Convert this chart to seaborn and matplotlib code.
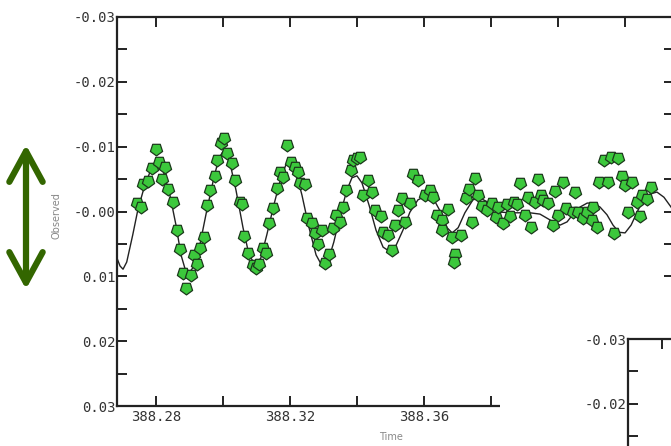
import numpy as np
import pandas as pd
import matplotlib
matplotlib.use("Agg")
import matplotlib.pyplot as plt
from matplotlib.patches import FancyArrowPatch, Rectangle
from matplotlib.ticker import MultipleLocator, FuncFormatter
import seaborn as sns

# ---- observed points (Time, Observed) ----
obs_time = [
    388.2743, 388.2755, 388.2761, 388.2776, 388.2788, 388.2800, 388.2809, 388.2827, 388.2818, 388.2836,
    388.2851, 388.2863, 388.2872, 388.2881, 388.2890, 388.2904, 388.2913, 388.2922, 388.2931, 388.2943,
    388.2952, 388.2961, 388.2976, 388.2982, 388.2994, 388.3003, 388.3012, 388.3027, 388.3036, 388.3051,
    388.3057, 388.3063, 388.3075, 388.3090, 388.3099, 388.3107, 388.3119, 388.3128, 388.3137, 388.3149,
    388.3161, 388.3170, 388.3179, 388.3191, 388.3203, 388.3215, 388.3224, 388.3230, 388.3245, 388.3251,
    388.3266, 388.3275, 388.3284, 388.3296, 388.3304, 388.3316, 388.3328, 388.3337, 388.3349, 388.3358,
    388.3367, 388.3382, 388.3388, 388.3400, 388.3409, 388.3418, 388.3433, 388.3445, 388.3454, 388.3472,
    388.3478, 388.3493, 388.3504, 388.3513, 388.3522, 388.3534, 388.3543, 388.3558, 388.3567, 388.3582,
    388.3603, 388.3618, 388.3627, 388.3639, 388.3654, 388.3654, 388.3672, 388.3684, 388.3710, 388.3693,
    388.3690, 388.3725, 388.3734, 388.3752, 388.3743, 388.3761, 388.3773, 388.3788, 388.3803, 388.3815,
    388.3821, 388.3836, 388.3848, 388.3857, 388.3869, 388.3878, 388.3887, 388.3901, 388.3910, 388.3919,
    388.3931, 388.3940, 388.3949, 388.3955, 388.3970, 388.3985, 388.3991, 388.4000, 388.4015, 388.4024,
    388.4045, 388.4051, 388.4060, 388.4075, 388.4087, 388.4101, 388.4104, 388.4116, 388.4122, 388.4137,
    388.4149, 388.4158, 388.4179, 388.4167, 388.4191, 388.4200, 388.4221, 388.4209, 388.4236, 388.4245,
    388.4251, 388.4266, 388.4278,
]
obs_value = [
    -0.0013, -0.0007, -0.0042, -0.0047, -0.0067, -0.0096, -0.0076, -0.0069, -0.0050, -0.0035,
    -0.0015, 0.0029, 0.0058, 0.0095, 0.0118, 0.0098, 0.0067, 0.0081, 0.0056, 0.0039,
    -0.0010, -0.0033, -0.0055, -0.0079, -0.0106, -0.0113, -0.0090, -0.0075, -0.0049, -0.0015,
    -0.0012, 0.0038, 0.0064, 0.0082, 0.0087, 0.0081, 0.0056, 0.0064, 0.0018, -0.0005,
    -0.0036, -0.0061, -0.0053, -0.0103, -0.0076, -0.0069, -0.0061, -0.0044, -0.0042, 0.0010,
    0.0018, 0.0033, 0.0050, 0.0029, 0.0079, 0.0066, 0.0025, 0.0005, 0.0016, -0.0007,
    -0.0033, -0.0064, -0.0079, -0.0082, -0.0084, -0.0025, -0.0049, -0.0030, -0.0002, 0.0007,
    0.0032, 0.0036, 0.0059, 0.0021, -0.0002, -0.0021, 0.0016, -0.0013, -0.0058, -0.0049,
    -0.0025, -0.0033, -0.0022, 0.0005, 0.0013, 0.0029, -0.0004, 0.0039, 0.0036, 0.0066,
    0.0078, -0.0021, -0.0035, -0.0052, 0.0016, -0.0025, -0.0008, -0.0002, -0.0013, 0.0008,
    -0.0007, 0.0018, -0.0012, 0.0007, -0.0015, -0.0012, -0.0044, 0.0005, -0.0022, 0.0024,
    -0.0015, -0.0050, -0.0025, -0.0018, -0.0013, 0.0021, -0.0032, 0.0005, -0.0045, -0.0005,
    0.0001, -0.0030, 0.0001, 0.0010, 0.0001, 0.0013, -0.0007, 0.0024, -0.0045, -0.0079,
    -0.0045, -0.0084, -0.0082, 0.0033, -0.0055, -0.0041, -0.0045, 0.0001, -0.0015, 0.0007,
    -0.0025, -0.0019, -0.0038,
]

# ---- model curve (Time, Observed) ----
model_time = [
    388.2684, 388.2693, 388.2702, 388.2713, 388.2731, 388.2746, 388.2767, 388.2785, 388.2803, 388.2821,
    388.2842, 388.2860, 388.2875, 388.2893, 388.2910, 388.2931, 388.2952, 388.2973, 388.2988, 388.3003,
    388.3018, 388.3039, 388.3060, 388.3078, 388.3096, 388.3113, 388.3131, 388.3152, 388.3173, 388.3188,
    388.3200, 388.3215, 388.3236, 388.3257, 388.3278, 388.3296, 388.3313, 388.3331, 388.3352, 388.3370,
    388.3385, 388.3400, 388.3415, 388.3436, 388.3457, 388.3478, 388.3499, 388.3516, 388.3537, 388.3558,
    388.3582, 388.3606, 388.3630, 388.3651, 388.3669, 388.3684, 388.3702, 388.3722, 388.3746, 388.3767,
    388.3788, 388.3809, 388.3830, 388.3857, 388.3887, 388.3916, 388.3946, 388.3976, 388.4006, 388.4027,
    388.4045, 388.4066, 388.4087, 388.4104, 388.4125, 388.4146, 388.4164, 388.4182, 388.4200, 388.4218,
    388.4236, 388.4254, 388.4275, 388.4295, 388.4316, 388.4337, 388.4346,
]
model_value = [
    0.0072, 0.0084, 0.0089, 0.0078, 0.0036, -0.0002, -0.0041, -0.0064, -0.0073, -0.0064,
    -0.0025, 0.0021, 0.0067, 0.0099, 0.0087, 0.0052, -0.0002, -0.0052, -0.0082, -0.0095,
    -0.0082, -0.0033, 0.0025, 0.0067, 0.0082, 0.0072, 0.0036, -0.0010, -0.0052, -0.0072,
    -0.0076, -0.0067, -0.0025, 0.0025, 0.0067, 0.0084, 0.0078, 0.0047, 0.0001, -0.0033,
    -0.0052, -0.0055, -0.0044, -0.0010, 0.0029, 0.0055, 0.0062, 0.0053, 0.0029, 0.0001,
    -0.0018, -0.0024, -0.0018, 0.0002, 0.0025, 0.0033, 0.0025, 0.0002, -0.0018, -0.0021,
    -0.0015, -0.0005, 0.0001, 0.0002, 0.0002, 0.0002, 0.0004, 0.0013, 0.0021, 0.0016,
    0.0004, -0.0007, -0.0013, -0.0013, -0.0007, 0.0005, 0.0021, 0.0032, 0.0033, 0.0021,
    0.0001, -0.0018, -0.0027, -0.0030, -0.0022, -0.0007, 0.0000,
]

x_tick_values = [388.28, 388.32, 388.36]
y_tick_values = [-0.03, -0.02, -0.01, 0.0, 0.01, 0.02, 0.03]
y_tick_labels = ["-0.03", "-0.02", "-0.01", "-0.00", "0.01", "0.02", "0.03"]
inset_y_tick_labels = ["-0.03", "-0.02"]

obs_df = pd.DataFrame({"Time": obs_time, "Observed": obs_value})
model_df = pd.DataFrame({"Time": model_time, "Observed": model_value})

sns.set_style("ticks")
plt.rcParams["font.family"] = ["DejaVu Sans"]

W, H = 671, 446
fig = plt.figure(figsize=(W / 100, H / 100), dpi=100)
fig.patch.set_facecolor("white")


def px_rect(left, top, right, bottom):
    return [left / W, 1 - bottom / H, (right - left) / W, (bottom - top) / H]


ax = fig.add_axes(px_rect(117, 17, 674, 406))
ax.set_facecolor("white")

sns.lineplot(data=model_df, x="Time", y="Observed", ax=ax, color="#222222",
             linewidth=1.0, sort=False, zorder=2)
sns.scatterplot(data=obs_df, x="Time", y="Observed", ax=ax, marker=(5, 0, 180),
                s=85, color="#3cc83c", edgecolor="#1c3a1c", linewidth=0.9, zorder=3)

ax.set_xlim(388.2684, 388.4346)
ax.set_ylim(0.03, -0.03)

ax.xaxis.set_major_locator(MultipleLocator(0.02))
ax.yaxis.set_major_locator(MultipleLocator(0.005))


def xfmt(v, pos):
    for t in x_tick_values:
        if abs(v - t) < 1e-6:
            return f"{t:.2f}"
    return ""


def yfmt(v, pos):
    for t, lab in zip(y_tick_values, y_tick_labels):
        if abs(v - t) < 1e-6:
            return lab
    return ""


ax.xaxis.set_major_formatter(FuncFormatter(xfmt))
ax.yaxis.set_major_formatter(FuncFormatter(yfmt))
ax.tick_params(direction="in", length=7, width=1.4, color="#222222",
               top=True, right=True, labelcolor="#333333", pad=3)
for lab in ax.get_xticklabels() + ax.get_yticklabels():
    lab.set_fontfamily("DejaVu Sans Mono")
    lab.set_fontsize(10)
ax.tick_params(axis="y", pad=1)

for s in ax.spines.values():
    s.set_linewidth(1.6)
    s.set_color("#222222")

ax.set_xlabel("Time", fontsize=7, color="#888888")
ax.set_ylabel("Observed", fontsize=7, color="#888888")
ax.xaxis.set_label_coords((391 - 117) / 557, -(432 - 406) / 389)
ax.yaxis.set_label_coords(-(117 - 62) / 557, 0.49)

# white panel covering the lower right (next panel region)
fig.patches.append(Rectangle((500 / W, 0), 1, (446 - 300) / H, transform=fig.transFigure,
                             facecolor="white", edgecolor="none", zorder=5))

# partially visible second panel at lower right
ax2 = fig.add_axes(px_rect(628, 339, 1300, 728))
ax2.set_zorder(6)
ax2.set_facecolor("white")
ax2.set_ylim(0.03, -0.03)
ax2.set_xlim(0, 1)
ax2.yaxis.set_major_locator(MultipleLocator(0.005))


def yfmt2(v, pos):
    for t, lab in zip([-0.03, -0.02], inset_y_tick_labels):
        if abs(v - t) < 1e-6:
            return lab
    return ""


ax2.yaxis.set_major_formatter(FuncFormatter(yfmt2))
ax2.set_xticks([(662 - 628) / 672])
ax2.set_xticklabels([""])
ax2.tick_params(direction="in", length=7, width=1.4, color="#222222",
                top=True, bottom=False, labelbottom=False, labelcolor="#333333", pad=1)
for lab in ax2.get_yticklabels():
    lab.set_fontfamily("DejaVu Sans Mono")
    lab.set_fontsize(10)
for s in ax2.spines.values():
    s.set_linewidth(1.6)
    s.set_color("#222222")

# big double-headed green arrow
arrow = FancyArrowPatch((26 / W, 1 - 142 / H), (26 / W, 1 - 292 / H),
                        transform=fig.transFigure,
                        arrowstyle="<->,head_length=1.1,head_width=0.6",
                        mutation_scale=20, color="#336600", linewidth=4.5,
                        capstyle="round", joinstyle="round")
fig.patches.append(arrow)

fig.savefig("out.png", dpi=100, facecolor="white")
